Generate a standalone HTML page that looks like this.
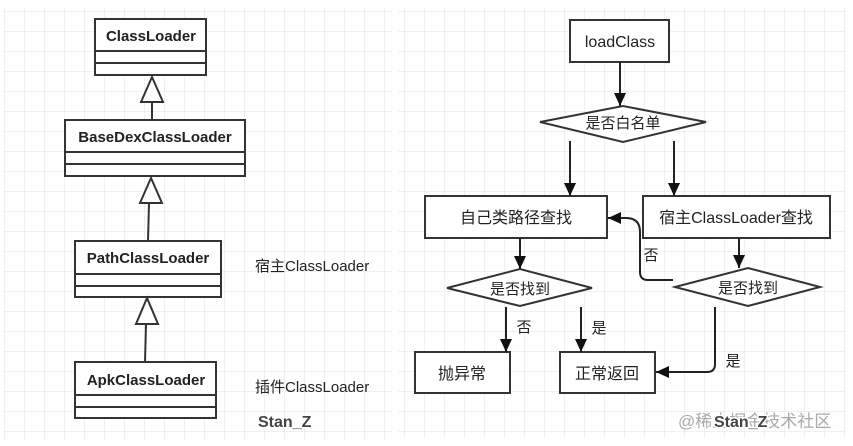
<!DOCTYPE html>
<html><head><meta charset="utf-8"><style>
html,body{margin:0;padding:0;background:#fff;}
svg{display:block;}
text{font-family:"Liberation Sans","Noto Sans CJK SC",sans-serif;fill:#222;}
</style></head><body>
<svg width="853" height="446" viewBox="0 0 853 446" xmlns="http://www.w3.org/2000/svg">
<defs>
<pattern id="g" width="20" height="20" patternUnits="userSpaceOnUse" x="5" y="12">
<path d="M20 0V20M0 20H20" fill="none" stroke="#e2e2e2" stroke-width="1"/>
</pattern>
<marker id="a" markerWidth="14" markerHeight="14" refX="13" refY="6" orient="auto" markerUnits="userSpaceOnUse"><path d="M0,0 L13,6 L0,12 Z" fill="#111"/></marker>
</defs>
<rect x="4" y="8" width="388" height="432" fill="url(#g)"/>
<rect x="398" y="8" width="448" height="430" fill="url(#g)"/>
<g fill="#fff" stroke="#333" stroke-width="2">
<rect x="95" y="19" width="111" height="56"/><path d="M95 51H206M95 63H206"/>
<rect x="65" y="120" width="180" height="56"/><path d="M65 152H245M65 164H245"/>
<rect x="75" y="241" width="146" height="56"/><path d="M75 274H221M75 286H221"/>
<rect x="75" y="362" width="141" height="56"/><path d="M75 395H216M75 407H216"/>
<path d="M152 102V120M149 203L148 241M146 324L145 362" fill="none"/>
<path d="M152 77L141 102H163Z"/><path d="M151 178L140 203H162Z"/><path d="M147 298L136 324H158Z"/>
</g>
<g font-weight="bold" font-size="15" text-anchor="middle">
<text x="151" y="41">ClassLoader</text>
<text x="155" y="142">BaseDexClassLoader</text>
<text x="148" y="263">PathClassLoader</text>
<text x="146" y="385">ApkClassLoader</text>
</g>
<text x="255" y="271" font-size="15">宿主ClassLoader</text>
<text x="255" y="392" font-size="15">插件ClassLoader</text>
<text x="258" y="427" font-size="16" font-weight="bold" stroke="#fff" stroke-width="3" paint-order="stroke" style="fill:#444">Stan_Z</text>

<g fill="#fff" stroke="#333" stroke-width="2">
<rect x="570" y="20" width="99" height="42"/>
<path d="M540 122L623 106L706 122L623 142Z"/>
<rect x="425" y="196" width="182" height="42"/>
<rect x="643" y="196" width="187" height="42"/>
<path d="M447 288L520 269L592 288L520 306Z"/>
<path d="M675 287L748 268L820 287L748 306Z"/>
<rect x="415" y="352" width="95" height="41"/>
<rect x="560" y="352" width="95" height="41"/>
</g>
<g stroke="#222" stroke-width="2" fill="none" marker-end="url(#a)">
<path d="M620 62V106"/>
<path d="M570 141V196"/>
<path d="M674 141V196"/>
<path d="M520 238V269"/>
<path d="M739 238V268"/>
<path d="M673 280H648Q640 280 640 272V232Q640 218 626 218H608"/>
<path d="M506 307V352"/>
<path d="M581 307V352"/>
<path d="M715 307V364Q715 372 707 372H656"/>
</g>
<g font-size="16" text-anchor="middle">
<text x="620" y="47">loadClass</text>
<text x="623" y="128" font-size="15">是否白名单</text>
<text x="516" y="223">自己类路径查找</text>
<text x="736" y="223">宿主ClassLoader查找</text>
<text x="520" y="294" font-size="15">是否找到</text>
<text x="748" y="293" font-size="15">是否找到</text>
<text x="462" y="379">抛异常</text>
<text x="607" y="379">正常返回</text>
<text x="651" y="260" font-size="15">否</text>
<text x="524" y="332" font-size="15">否</text>
<text x="599" y="333" font-size="15">是</text>
<text x="733" y="366" font-size="15">是</text>
</g>
<text x="678" y="427" font-size="17" style="fill:#aaa">@稀土掘金技术社区</text>
<text x="714" y="427" font-size="16" font-weight="bold" stroke="#fff" stroke-width="3" paint-order="stroke" style="fill:#444">Stan_Z</text>
</svg>
</body></html>
